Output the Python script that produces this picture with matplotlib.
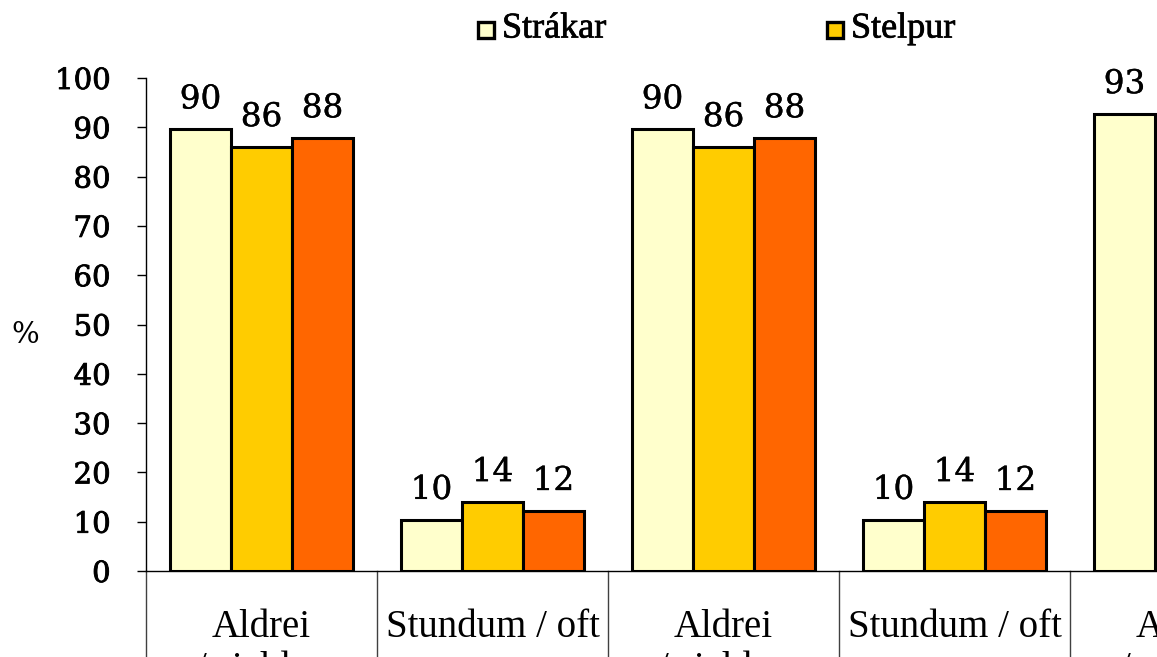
import numpy as np
import matplotlib
matplotlib.use("Agg")
import matplotlib.pyplot as plt
import matplotlib.patheffects as pe
from matplotlib.patches import Rectangle
from matplotlib.transforms import blended_transform_factory

# ---- data ----
categories_line1 = ["Aldrei", "Stundum / oft", "Aldrei", "Stundum / oft", "Aldrei"]
categories_line2 = ["/ sjaldan", "", "/ sjaldan", "", "/ sjaldan"]
series_names = ["Strákar", "Stelpur", "Alls"]
strakar = [89.6, 10.4, 89.6, 10.4, 92.7]
stelpur = [86.0, 14.0, 86.0, 14.0, np.nan]
alls = [87.8, 12.2, 87.8, 12.2, np.nan]
yticks = [0, 10, 20, 30, 40, 50, 60, 70, 80, 90, 100]
colors = ["#FFFFCC", "#FFCC00", "#FF6600"]

W, H = 1157, 657
fig = plt.figure(figsize=(W / 100, H / 100), dpi=100)
ax_left, ax_right, ax_bottom, ax_top = 146, 1157, 571, 78
ax = fig.add_axes([ax_left / W, 1 - ax_bottom / H, (ax_right - ax_left) / W, (ax_bottom - ax_top) / H])

cat_w = 231.0
x = np.arange(len(categories_line1))
bw = 61.0 / cat_w
num_font = "DejaVu Serif"
txt_font = "Liberation Serif"

for i, (vals, col) in enumerate(zip([strakar, stelpur, alls], colors)):
    vals = np.array(vals, dtype=float)
    pos = x + (i - 1) * bw
    ok = ~np.isnan(vals)
    ax.bar(pos[ok], vals[ok], width=bw, color=col, edgecolor="black", linewidth=2.2, zorder=3)
    for p, v in zip(pos[ok], vals[ok]):
        ax.annotate(f"{v:.0f}", (p, v), xytext=(0, 10), textcoords="offset points",
                    ha="center", va="bottom", fontsize=23.5, family=num_font, color="black",
                    annotation_clip=False, path_effects=[pe.withStroke(linewidth=0.3, foreground="black")])

ax.set_xlim(-0.5, (ax_right - ax_left) / cat_w - 0.5)
ax.set_ylim(0, 100)
ax.set_yticks(yticks)
ax.set_yticklabels([str(t) for t in yticks], family=num_font, fontsize=21)
for lab in ax.get_yticklabels():
    lab.set_path_effects([pe.withStroke(linewidth=0.6, foreground="black")])
ax.tick_params(axis="y", direction="out", length=6.5, width=1, pad=19)
ax.set_xticks([])
for s in ["top", "right"]:
    ax.spines[s].set_visible(False)
ax.spines["left"].set_linewidth(1)
ax.spines["bottom"].set_linewidth(1)

# category separators
trans_sep = blended_transform_factory(ax.transData, ax.transAxes)
for b in np.arange(-0.5, len(categories_line1), 1.0):
    ax.plot([b, b], [0, -0.2], color="#404040", lw=1, transform=trans_sep, clip_on=False)

# category labels (two lines)
trans_lab = blended_transform_factory(ax.transData, fig.transFigure)
for xi, l1, l2 in zip(x, categories_line1, categories_line2):
    ax.text(xi, 1 - 637 / H, l1, transform=trans_lab, ha="center", va="baseline",
            fontsize=28, family=txt_font, clip_on=False)
    if l2:
        ax.text(xi, 1 - 679 / H, l2, transform=trans_lab, ha="center", va="baseline",
                fontsize=28, family=txt_font, clip_on=False)

# y label
fig.text(25 / W, 1 - 335 / H, "%", ha="center", va="center", fontsize=21, family=num_font)

# legend (manual)
for i, (name, col) in enumerate(zip(series_names, colors)):
    lx = 478 + i * 349
    fig.add_artist(Rectangle((lx / W, 1 - 38 / H), 16 / W, 16 / H, transform=fig.transFigure,
                             facecolor=col, edgecolor="black", linewidth=2.4))
    fig.text((lx + 24) / W, 1 - 29 / H, name, ha="left", va="center", fontsize=26,
             family=txt_font, path_effects=[pe.withStroke(linewidth=0.5, foreground="black")])

fig.savefig("out.png", dpi=100)
